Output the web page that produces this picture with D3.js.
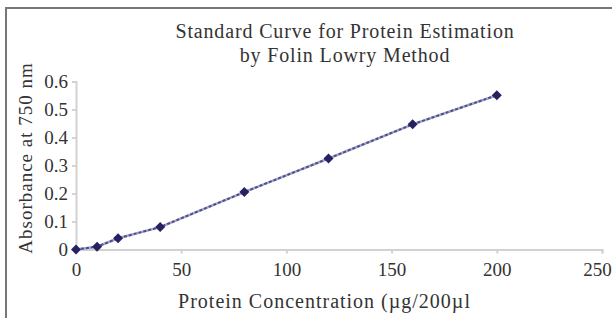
<!DOCTYPE html>
<html>
<head>
<meta charset="utf-8">
<title>Standard Curve</title>
<script src="https://d3js.org/d3.v7.min.js"></script>
<style>
  body { margin: 0; background: #fff; }
  svg text { font-family: "Liberation Serif", serif; fill: #333; }
</style>
</head>
<body>
<svg id="chart" width="612" height="318"></svg>
<script>
// protein concentration (ug/200ul) and absorbance
var concentration = [0, 10, 20, 40, 80, 120, 160, 200];
var absorbance = [0, 0.01, 0.04, 0.08, 0.205, 0.325, 0.447, 0.551];
var xTicks = [0, 50, 100, 150, 200, 250];
var yTicks = [0, 0.1, 0.2, 0.3, 0.4, 0.5, 0.6];

var svg = d3.select("#chart");

// frame (only top and left edges are visible in the crop)
svg.append("path")
  .attr("d", "M6,318V8H612")
  .attr("fill", "none")
  .attr("stroke", "#777")
  .attr("stroke-width", 2);

var x = d3.scaleLinear().domain([0, 250]).range([76, 602]);
var y = d3.scaleLinear().domain([0, 0.6]).range([249.5, 81.5]);

var fmtY = function(d) { return d === 0 ? "0" : d3.format(".1f")(d); };

var gx = svg.append("g")
  .attr("transform", "translate(0," + y(0) + ")")
  .call(d3.axisBottom(x).tickValues(xTicks).tickSize(4).tickPadding(9));
gx.selectAll("text").style("font-size", "19px");
// last label sits against the right edge, pull it in a little
gx.selectAll("text").filter(function(d) { return d === 250; }).attr("dx", -5);

var gy = svg.append("g")
  .attr("transform", "translate(" + x(0) + ",0)")
  .call(d3.axisLeft(y).tickValues(yTicks).tickFormat(fmtY).tickSize(4).tickPadding(4));
gy.selectAll("text").style("font-size", "19px");

svg.selectAll(".domain, .tick line")
  .attr("stroke", "#d2d2d2")
  .attr("stroke-width", 2);

var pts = concentration.map(function(c, i) { return [c, absorbance[i]]; });
var line = d3.line().x(function(d) { return x(d[0]); }).y(function(d) { return y(d[1]); });

svg.append("path")
  .datum(pts)
  .attr("d", line)
  .attr("fill", "none")
  .attr("stroke", "#a6a6cc")
  .attr("stroke-width", 2.5);

svg.append("path")
  .datum(pts)
  .attr("d", line)
  .attr("fill", "none")
  .attr("stroke", "#4f4f8e")
  .attr("stroke-width", 2)
  .attr("stroke-dasharray", "3,2");

var diamond = d3.symbol().type(d3.symbolSquare).size(50);
svg.selectAll(".pt")
  .data(pts)
  .enter().append("path")
  .attr("class", "pt")
  .attr("d", diamond)
  .attr("transform", function(d) { return "translate(" + x(d[0]) + "," + y(d[1]) + ") rotate(45)"; })
  .attr("fill", "#262262");

// titles
svg.append("text")
  .attr("x", 345).attr("y", 37.5)
  .attr("text-anchor", "middle")
  .style("font-size", "20px")
  .style("letter-spacing", "0.85px")
  .text("Standard Curve for Protein Estimation");
svg.append("text")
  .attr("x", 345).attr("y", 61.5)
  .attr("text-anchor", "middle")
  .style("font-size", "20px")
  .style("letter-spacing", "0.85px")
  .text("by Folin Lowry Method");

svg.append("text")
  .attr("transform", "translate(32,158) rotate(-90)")
  .attr("text-anchor", "middle")
  .style("font-size", "19px")
  .style("letter-spacing", "1px")
  .text("Absorbance at 750 nm");

svg.append("text")
  .attr("x", 324.5).attr("y", 308)
  .attr("text-anchor", "middle")
  .style("font-size", "20px")
  .style("letter-spacing", "1px")
  .text("Protein Concentration (µg/200µl");
</script>
</body>
</html>
